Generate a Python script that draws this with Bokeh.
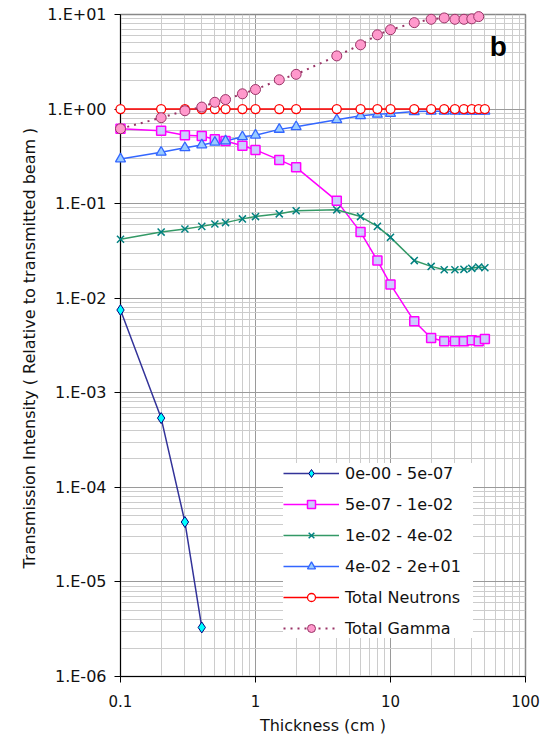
from bokeh.plotting import figure
from bokeh.models import Range1d, FixedTicker, CustomJSTickFormatter, Legend, LegendItem, Label
from bokeh.embed import file_html
from bokeh.resources import INLINE

# Shield thickness (cm)
thickness = [0.1, 0.2, 0.3, 0.4, 0.5, 0.6, 0.8, 1, 1.5, 2, 4, 6, 8, 10,
             15, 20, 25, 30, 35, 40, 45, 50]

# Energy group 0e-00 - 5e-07 (only the thinnest layers)
g1_x = [0.1, 0.2, 0.3, 0.4]
g1_y = [7.5e-3, 5.4e-4, 4.3e-5, 3.3e-6]

# Energy group 5e-07 - 1e-02
g2_y = [0.62, 0.59, 0.53, 0.52, 0.48, 0.46, 0.41, 0.37, 0.29, 0.242, 0.107,
        0.050, 0.025, 0.014, 0.0057, 0.0038, 0.0035, 0.0035, 0.0035, 0.0036,
        0.0035, 0.0037]

# Energy group 1e-02 - 4e-02
g3_y = [0.042, 0.050, 0.054, 0.0575, 0.061, 0.063, 0.069, 0.073, 0.078, 0.084,
        0.086, 0.073, 0.0575, 0.044, 0.025, 0.0217, 0.020, 0.020, 0.0202,
        0.0207, 0.0214, 0.021]

# Energy group 4e-02 - 2e+01
g4_y = [0.297, 0.349, 0.39, 0.418, 0.445, 0.46, 0.51, 0.53, 0.61, 0.65, 0.77,
        0.85, 0.88, 0.90, 0.94, 0.95, 0.95, 0.95, 0.95, 0.95, 0.95, 0.95]

# Total neutrons (normalised)
neutrons_y = [1.0, 1.0, 1.0, 1.0, 1.0, 1.0, 1.0, 1.0, 1.0, 1.0, 1.0,
              1.0, 1.0, 1.0, 1.0, 1.0, 1.0, 1.0, 1.0, 1.0, 1.0, 1.0]

# Total gamma
gamma_x = [0.1, 0.2, 0.3, 0.4, 0.5, 0.6, 0.8, 1, 1.5, 2, 4, 6, 8, 10,
           15, 20, 25, 30, 35, 40, 45]
gamma_y = [0.62, 0.81, 0.96, 1.05, 1.18, 1.26, 1.45, 1.61, 2.04, 2.33, 3.65,
           4.78, 6.1, 6.9, 8.2, 8.9, 9.2, 8.9, 8.9, 9.0, 9.5]

labels = ["0e-00 - 5e-07", "5e-07 - 1e-02", "1e-02 - 4e-02",
          "4e-02 - 2e+01", "Total Neutrons", "Total Gamma"]

FONT = "DejaVu Sans"

p = figure(
    width=547, height=744,
    x_axis_type="log", y_axis_type="log",
    x_range=Range1d(0.1, 100), y_range=Range1d(1e-6, 10),
    output_backend="svg", toolbar_location=None,
    min_border_left=120, min_border_right=22,
    min_border_top=14, min_border_bottom=68,
    frame_width=405, frame_height=662,
    background_fill_color="white", border_fill_color="white",
)
p.outline_line_color = "#888888"
p.outline_line_width = 1.5

# ticks
x_major = [0.1, 1, 10, 100]
x_minor = [k * 10.0 ** e for e in (-1, 0, 1) for k in range(2, 10)]
y_major = [10.0 ** e for e in range(-6, 2)]
y_minor = [k * 10.0 ** e for e in range(-6, 1) for k in range(2, 10)]

p.xaxis.ticker = FixedTicker(ticks=x_major, minor_ticks=x_minor)
p.yaxis.ticker = FixedTicker(ticks=y_major, minor_ticks=y_minor)
p.xaxis.formatter = CustomJSTickFormatter(code="return String(tick);")
p.yaxis.formatter = CustomJSTickFormatter(code="""
const e = Math.round(Math.log10(tick));
const s = e < 0 ? "-" : "+";
const a = Math.abs(e);
return "1.E" + s + (a < 10 ? "0" + a : String(a));
""")

for ax in (p.xaxis, p.yaxis):
    ax.axis_line_color = "black"
    ax.axis_line_width = 1
    ax.major_tick_line_color = "black"
    ax.major_tick_out = 6
    ax.major_tick_in = 0
    ax.minor_tick_line_color = None
    ax.major_label_text_font = FONT
    ax.major_label_text_color = "#111111"
    ax.axis_label_text_font = FONT
    ax.axis_label_text_font_style = "normal"
    ax.axis_label_text_color = "#111111"

p.xaxis.major_label_text_font_size = "15px"
p.yaxis.major_label_text_font_size = "16px"
p.xaxis.major_label_standoff = 12
p.yaxis.major_label_standoff = 8
p.xaxis.axis_label = "Thickness (cm )"
p.yaxis.axis_label = "Transmission Intensity  ( Relative to transmitted beam )"
p.xaxis.axis_label_text_font_size = "16px"
p.yaxis.axis_label_text_font_size = "16px"
p.xaxis.axis_label_standoff = 6
p.yaxis.axis_label_standoff = 5

# grid
for g in (p.xgrid, p.ygrid):
    g.grid_line_color = "#9a9a9a"
    g.grid_line_width = 1
    g.minor_grid_line_color = "#cccccc"
    g.minor_grid_line_width = 1

# series: lines clipped to the frame, markers drawn on the overlay level
r1l = p.line(g1_x, g1_y, line_color="#333399", line_width=1.5)
r1m = p.scatter(g1_x, g1_y, marker="diamond", size=11, fill_color="#00FFFF",
                line_color="#000080", line_width=1, level="overlay")

r2l = p.line(thickness, g2_y, line_color="#FF00FF", line_width=1.5)
r2m = p.scatter(thickness, g2_y, marker="square", size=9, fill_color="#CCCCFF",
                line_color="#FF00FF", line_width=1.5, level="overlay")

r3l = p.line(thickness, g3_y, line_color="#339966", line_width=1.5)
r3m = p.scatter(thickness, g3_y, marker="x", size=10, line_color="#008080",
                line_width=1.5, level="overlay")

r4l = p.line(thickness, g4_y, line_color="#3366FF", line_width=1.5)
r4m = p.scatter(thickness, g4_y, marker="triangle", size=10, fill_color="#99CCFF",
                line_color="#3366FF", line_width=1.3, level="overlay")

r5l = p.line(thickness, neutrons_y, line_color="#FF0000", line_width=1.5)
r5m = p.scatter(thickness, neutrons_y, marker="circle", size=9, fill_color="white",
                line_color="#FF0000", line_width=1.3, level="overlay")

r6l = p.line(gamma_x, gamma_y, line_color="#993366", line_width=2, line_dash="2 5")
r6m = p.scatter(gamma_x, gamma_y, marker="circle", size=10, fill_color="#FF99CC",
                line_color="#993366", line_width=1, level="overlay")

items = [
    LegendItem(label=labels[0], renderers=[r1l, r1m]),
    LegendItem(label=labels[1], renderers=[r2l, r2m]),
    LegendItem(label=labels[2], renderers=[r3l, r3m]),
    LegendItem(label=labels[3], renderers=[r4l, r4m]),
    LegendItem(label=labels[4], renderers=[r5l, r5m]),
    LegendItem(label=labels[5], renderers=[r6l, r6m]),
]
legend = Legend(
    items=items, location=(163, 38),
    background_fill_color="white", background_fill_alpha=1.0,
    border_line_color=None,
    label_text_font=FONT, label_text_font_size="16px", label_text_color="#111111",
    glyph_width=56, glyph_height=20, label_height=20, label_width=128,
    label_standoff=6, spacing=11, padding=9, margin=0,
)
p.add_layout(legend, "center")

p.add_layout(Label(x=63, y=4.6, text="b", text_font="Liberation Sans",
                   text_font_size="28px", text_font_style="bold",
                   text_align="center", text_baseline="middle",
                   text_color="black"))

open("out.html", "w").write(file_html(p, INLINE))
